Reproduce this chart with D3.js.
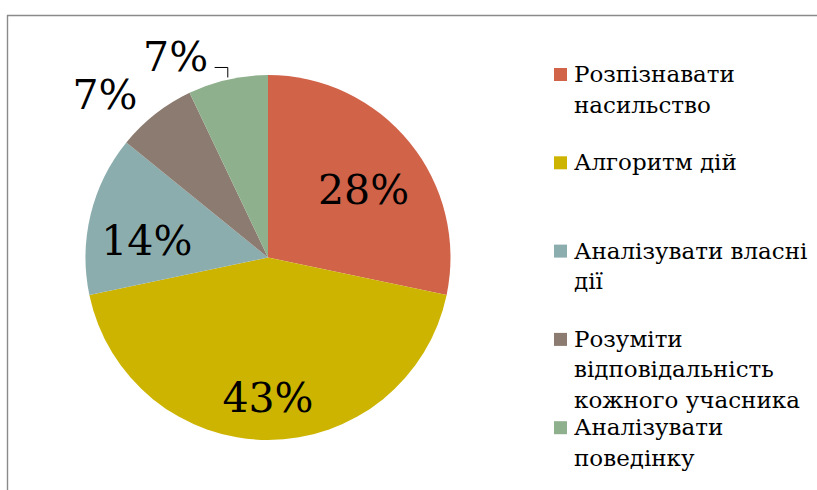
<!DOCTYPE html>
<html>
<head>
<meta charset="utf-8">
<script src="https://cdn.jsdelivr.net/npm/d3@7"></script>
<style>
  body { margin: 0; background: #fff; }
  svg text { font-family: "DejaVu Serif", Georgia, serif; }
</style>
</head>
<body>
<div id="chart"></div>
<script>
// Data
const categories = ["Розпізнавати насильство", "Алгоритм дій", "Аналізувати власні дії",
                    "Розуміти відповідальність кожного учасника", "Аналізувати поведінку"];
const values = [28, 43, 14, 7, 7];
const colors = ["#D16349", "#CCB400", "#8CADAE", "#8C7B70", "#8FB08C"];

// Label placement (fraction of radius, angle shift in degrees)
const labelRadius = [0.64, 0.77, 0.67, 1.26, 1.21];
const labelShift = [4, 0, -6, -7, -12];

const width = 817, height = 490;
const cx = 268, cy = 257.5, radius = 182.5;

const svg = d3.select("#chart")
    .append("svg")
    .attr("width", width)
    .attr("height", height);

// Frame
svg.append("path")
    .attr("d", `M7.5,${height} V15.5 H${width}`)
    .attr("fill", "none")
    .attr("stroke", "#8a8a8a")
    .attr("stroke-width", 1.4);

const pie = d3.pie().sort(null).value(d => d)(values);
const arc = d3.arc().innerRadius(0).outerRadius(radius);

const g = svg.append("g").attr("transform", `translate(${cx},${cy})`);

g.selectAll(".slice")
    .data(pie)
    .enter()
    .append("path")
    .attr("class", "slice")
    .attr("d", arc)
    .attr("fill", (d, i) => colors[i]);

// Percentage labels
const labelPos = (d, i) => {
    const a = (d.startAngle + d.endAngle) / 2 + labelShift[i] * Math.PI / 180;
    const r = radius * labelRadius[i];
    return [r * Math.sin(a), -r * Math.cos(a)];
};

g.selectAll(".pct")
    .data(pie)
    .enter()
    .append("text")
    .attr("class", "pct")
    .attr("x", (d, i) => labelPos(d, i)[0])
    .attr("y", (d, i) => labelPos(d, i)[1])
    .attr("text-anchor", "middle")
    .attr("dominant-baseline", "central")
    .attr("font-size", 41)
    .attr("fill", "#000")
    .text(d => d.data + "%");

// Leader line for the last slice
const last = pie[pie.length - 1];
const lp = labelPos(last, pie.length - 1);
const ea = (last.startAngle + last.endAngle) / 2;
const edge = [radius * Math.sin(ea), -radius * Math.cos(ea)];
g.append("path")
    .attr("d", `M${lp[0] + 39},${edge[1] - 12} H${edge[0]} V${edge[1] - 2}`)
    .attr("fill", "none")
    .attr("stroke", "#000")
    .attr("stroke-width", 1);

// Legend
const legend = svg.append("g").attr("transform", "translate(554,0)");
const maxW = 250, lineH = 30.5;

categories.forEach((name, i) => {
    const y0 = 82 + i * 88.3;
    legend.append("rect")
        .attr("x", 0).attr("y", y0 - 14)
        .attr("width", 13).attr("height", 13)
        .attr("fill", colors[i]);

    const text = legend.append("text")
        .attr("x", 20).attr("y", y0)
        .attr("font-size", 23)
        .attr("fill", "#000");

    // wrap words to the legend width
    const words = name.split(" ");
    let line = [], tspan = text.append("tspan").attr("x", 20).attr("y", y0), n = 0;
    words.forEach(w => {
        line.push(w);
        tspan.text(line.join(" "));
        if (tspan.node().getComputedTextLength() > maxW && line.length > 1) {
            line.pop();
            tspan.text(line.join(" "));
            line = [w];
            n++;
            tspan = text.append("tspan").attr("x", 20).attr("y", y0 + n * lineH).text(w);
        }
    });
});
</script>
</body>
</html>
